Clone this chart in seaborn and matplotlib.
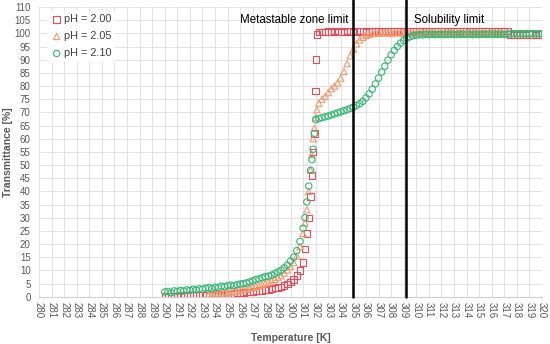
import matplotlib
matplotlib.use("Agg")
import matplotlib.pyplot as plt
import seaborn as sns

sns.set_theme(style="white")
plt.rcParams['font.family'] = ['Liberation Sans', 'DejaVu Sans']

# ---- data (temperature [K], transmittance [%]) ----
t_200 = [290.0, 290.25, 290.5, 290.75, 291.0, 291.25, 291.5, 291.75, 292.0, 292.25,
         292.5, 292.75, 293.0, 293.25, 293.5, 293.75, 294.0, 294.25, 294.5, 294.75,
         295.0, 295.25, 295.5, 295.75, 296.0, 296.25, 296.5, 296.75, 297.0, 297.25,
         297.5, 297.75, 298.0, 298.25, 298.5, 298.75, 299.0, 299.25, 299.5, 299.75,
         300.0, 300.25, 300.5, 300.75, 301.0, 301.15, 301.3, 301.45, 301.6, 301.7,
         301.8, 301.9, 302.0, 302.05, 302.1, 302.25,
         302.5, 302.75, 303.0, 303.25, 303.5, 303.75, 304.0, 304.25, 304.5, 304.75,
         305.0, 305.25, 305.5, 305.75, 306.0, 306.25, 306.5, 306.75, 307.0, 307.25,
         307.5, 307.75, 308.0, 308.25, 308.5, 308.75, 309.0, 309.25, 309.5, 309.75,
         310.0, 310.25, 310.5, 310.75, 311.0, 311.25, 311.5, 311.75, 312.0, 312.25,
         312.5, 312.75, 313.0, 313.25, 313.5, 313.75, 314.0, 314.25, 314.5, 314.75,
         315.0, 315.25, 315.5, 315.75, 316.0, 316.25, 316.5, 316.75, 317.0, 317.25,
         317.5, 317.75, 318.0, 318.25, 318.5, 318.75, 319.0, 319.25, 319.5, 319.75, 320.0]
v_200 = [0.3, 0.3, 0.2, 0.3, 0.3, 0.4, 0.3, 0.4, 0.4, 0.5,
         0.4, 0.5, 0.5, 0.6, 0.6, 0.7, 0.8, 0.8, 0.9, 1.0,
         1.0, 1.1, 1.2, 1.4, 1.5, 1.6, 1.7, 1.9, 2.0, 2.1,
         2.3, 2.4, 2.6, 2.8, 3.0, 3.2, 3.5, 3.8, 4.2, 4.8,
         5.5, 6.5, 8.0, 10.0, 13.0, 18.0, 24.0, 30.0, 38.0, 46.0,
         55.0, 62.0, 78.0, 90.0, 99.5, 100.4,
         100.6, 100.5, 100.7, 100.6, 100.8, 100.5, 100.7, 100.6, 100.8, 100.7,
         100.6, 100.9, 100.7, 100.8, 100.6, 100.7, 100.9, 100.8, 100.7, 100.8,
         100.9, 100.7, 100.8, 100.9, 100.8, 100.7, 100.9, 100.8, 100.9, 100.7,
         100.8, 100.9, 100.8, 100.7, 100.9, 100.8, 100.9, 100.8, 100.7, 100.9,
         100.8, 100.9, 100.8, 100.9, 100.7, 100.8, 100.9, 100.8, 100.9, 100.8,
         100.9, 100.8, 100.7, 100.9, 100.8, 100.9, 100.8, 100.9, 100.8, 100.9,
         99.5, 99.4, 99.5, 99.4, 99.5, 99.4, 99.5, 99.5, 99.4, 99.5, 99.5]

t_205 = [293.5, 293.75, 294.0, 294.25, 294.5, 294.75, 295.0, 295.25, 295.5, 295.75,
         296.0, 296.25, 296.5, 296.75, 297.0, 297.25, 297.5, 297.75, 298.0, 298.25,
         298.5, 298.75, 299.0, 299.25, 299.5, 299.75, 300.0, 300.25, 300.5, 300.75,
         301.0, 301.15, 301.3, 301.45, 301.6, 301.7, 301.8, 301.9, 302.0, 302.1,
         302.25, 302.5, 302.75, 303.0, 303.25, 303.5, 303.75, 304.0, 304.25, 304.5,
         304.75, 305.0, 305.25, 305.5, 305.75, 306.0, 306.25, 306.5, 306.75, 307.0,
         307.25, 307.5, 307.75, 308.0, 308.25, 308.5, 308.75, 309.0, 309.25, 309.5,
         309.75, 310.0, 310.25, 310.5, 310.75, 311.0, 311.25, 311.5, 311.75, 312.0,
         312.25, 312.5, 312.75, 313.0, 313.25, 313.5, 313.75, 314.0, 314.25, 314.5,
         314.75, 315.0, 315.25, 315.5, 315.75, 316.0, 316.25, 316.5, 316.75, 317.0]
v_205 = [1.0, 1.1, 1.2, 1.3, 1.4, 1.5, 1.6, 1.8, 2.0, 2.2,
         2.4, 2.6, 2.9, 3.2, 3.5, 3.8, 4.1, 4.5, 5.0, 5.5,
         6.0, 6.6, 7.3, 8.0, 9.0, 10.2, 11.5, 13.0, 15.5, 19.0,
         24.0, 28.0, 33.0, 40.0, 48.0, 54.0, 60.0, 64.0, 68.0, 71.0,
         73.5, 75.0, 76.0, 77.5, 79.0, 80.0, 81.2, 83.0, 85.5, 88.5,
         91.5, 94.0, 96.0, 97.5, 98.5, 99.2, 99.6, 99.9, 100.1, 100.2,
         100.1, 100.3, 100.2, 100.1, 100.3, 100.2, 100.3, 100.1, 100.2, 100.3,
         100.2, 100.1, 100.3, 100.2, 100.1, 100.2, 100.3, 100.2, 100.1, 100.2,
         100.3, 100.2, 100.1, 100.2, 100.3, 100.2, 100.1, 100.2, 100.3, 100.2,
         100.1, 100.2, 100.3, 100.2, 100.1, 100.2, 100.3, 100.2, 100.1, 100.2]

t_210 = [290.0, 290.25, 290.5, 290.75, 291.0, 291.25, 291.5, 291.75, 292.0, 292.25,
         292.5, 292.75, 293.0, 293.25, 293.5, 293.75, 294.0, 294.25, 294.5, 294.75,
         295.0, 295.25, 295.5, 295.75, 296.0, 296.25, 296.5, 296.75, 297.0, 297.25,
         297.5, 297.75, 298.0, 298.25, 298.5, 298.75, 299.0, 299.25, 299.5, 299.75,
         300.0, 300.25, 300.5, 300.75, 301.0, 301.15, 301.3, 301.45, 301.6, 301.7,
         301.8, 301.9, 302.0, 302.25, 302.5, 302.75, 303.0, 303.25, 303.5, 303.75,
         304.0, 304.25, 304.5, 304.75, 305.0, 305.25, 305.5, 305.75, 306.0, 306.25,
         306.5, 306.75, 307.0, 307.25, 307.5, 307.75, 308.0, 308.25, 308.5, 308.75,
         309.0, 309.25, 309.5, 309.75, 310.0, 310.25, 310.5, 310.75, 311.0, 311.25,
         311.5, 311.75, 312.0, 312.25, 312.5, 312.75, 313.0, 313.25, 313.5, 313.75,
         314.0, 314.25, 314.5, 314.75, 315.0, 315.25, 315.5, 315.75, 316.0, 316.25,
         316.5, 316.75, 317.0, 317.25, 317.5, 317.75, 318.0, 318.25, 318.5, 318.75,
         319.0, 319.25, 319.5, 319.75, 320.0, 320.25]
v_210 = [1.8, 2.0, 1.5, 2.2, 2.0, 2.4, 2.1, 2.6, 2.4, 2.8,
         2.6, 3.0, 2.8, 3.2, 3.4, 3.1, 3.6, 3.5, 4.0, 3.8,
         4.2, 4.4, 4.2, 4.6, 4.8, 5.0, 5.2, 5.6, 6.0, 6.5,
         6.8, 7.2, 7.6, 7.8, 8.2, 8.8, 9.4, 10.0, 11.0, 12.0,
         13.5, 15.0, 17.5, 21.0, 26.0, 30.0, 36.0, 42.0, 48.0, 52.0,
         56.0, 62.0, 67.2, 67.6, 68.0, 68.3, 68.6, 69.0, 69.4, 69.8,
         70.2, 70.6, 71.0, 71.5, 72.0, 72.6, 73.3, 74.2, 75.5, 77.0,
         78.8, 80.8, 83.0, 85.3, 87.5, 89.8, 91.8, 93.5, 95.0, 96.3,
         97.3, 98.1, 98.7, 99.1, 99.3, 99.5, 99.4, 99.6, 99.5, 99.7,
         99.5, 99.6, 99.7, 99.5, 99.6, 99.7, 99.6, 99.5, 99.7, 99.6,
         99.7, 99.6, 99.5, 99.7, 99.6, 99.7, 99.6, 99.7, 99.6, 99.7,
         99.6, 99.7, 99.6, 99.7, 99.8, 99.9, 99.8, 99.9, 99.8, 99.9,
         99.8, 99.9, 99.8, 99.9, 99.8, 99.9]

series_labels = ['pH = 2.00', 'pH = 2.05', 'pH = 2.10']
metastable_limit = 305.0
solubility_limit = 309.2

x_ticks = list(range(280, 321))
y_ticks = list(range(0, 111, 5))

# ---- figure ----
fig = plt.figure(figsize=(5.5, 3.44), dpi=100)
ax = fig.add_axes([39 / 550, 47.3 / 344, 503 / 550, 289.7 / 344])

styles = [
    (t_200, v_200, 's', '#ec4b5a'),
    (t_205, v_205, '^', '#f29a6e'),
    (t_210, v_210, 'o', '#34b873'),
]
for (tt, vv, mk, col), lab in zip(styles, series_labels):
    sns.scatterplot(x=tt, y=vv, marker=mk, s=21, facecolors='none', edgecolors=col,
                    linewidths=0.8, label=lab, ax=ax, zorder=3)

# limit lines
for xv in (metastable_limit, solubility_limit):
    ax.axvline(xv, ymin=0, ymax=1.025, color='black', lw=1.8, zorder=4, clip_on=False)
ax.text(metastable_limit - 0.35, 105, 'Metastable zone limit', ha='right', va='center',
        fontsize=8.3, color='black')
ax.text(solubility_limit + 0.6, 105, 'Solubility limit', ha='left', va='center',
        fontsize=8.3, color='black')

ax.set_xlim(280, 320)
ax.set_ylim(0, 110)
ax.set_xticks(x_ticks)
ax.set_yticks(y_ticks)
ax.set_xticklabels([str(t) for t in x_ticks], rotation=270, fontsize=7, color='#595959')
ax.set_yticklabels([str(v) for v in y_ticks], fontsize=7, color='#595959')
ax.tick_params(axis='both', length=0)
ax.tick_params(axis='x', pad=4)
ax.tick_params(axis='y', pad=6)
ax.grid(True, color='#dedede', lw=0.6)
ax.set_axisbelow(True)
for side in ('top', 'right', 'left'):
    ax.spines[side].set_visible(False)
ax.spines['bottom'].set_color('#d0d0d0')
ax.spines['bottom'].set_linewidth(0.8)

ax.set_xlabel('Temperature [K]', fontsize=7.5, fontweight='bold', color='#595959', labelpad=10)
ax.set_ylabel('Transmittance [%]', fontsize=7.5, fontweight='bold', color='#595959')
ax.yaxis.set_label_coords(-0.052, 0.5)

leg = ax.legend(loc='upper left', bbox_to_anchor=(0.005, 1.005), frameon=True, fancybox=False,
                edgecolor='none', facecolor='white', framealpha=1, fontsize=7.8,
                labelspacing=0.65, handletextpad=0.1, borderpad=0.3, handlelength=1.2)
for txt in leg.get_texts():
    txt.set_color('#404040')

plt.savefig('out.png', dpi=100)
